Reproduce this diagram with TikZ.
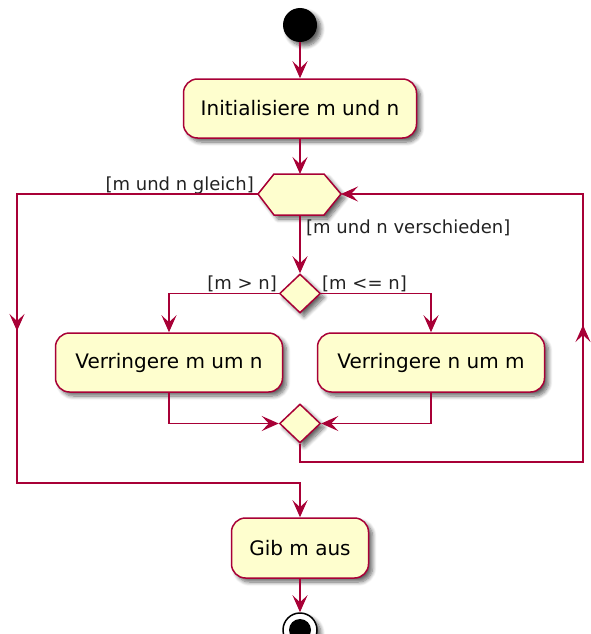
\documentclass[tikz,border=0pt]{standalone}
\usepackage{fontspec}
\setmainfont{DejaVu Sans}
\usetikzlibrary{arrows.meta,shapes.geometric,shadows.blur}
\definecolor{umlred}{HTML}{A80036}
\definecolor{umlfill}{HTML}{FEFECE}
\definecolor{lbltext}{HTML}{222222}

\begin{document}
\begin{tikzpicture}[x=1pt,y=-1pt,
  shade/.style={blur shadow={shadow xshift=4pt, shadow yshift=-4pt,
      shadow blur steps=8, shadow blur radius=4pt, shadow opacity=60}},
  act/.style={rectangle, rounded corners=14pt, draw=umlred, fill=umlfill,
      line width=1.5pt, minimum height=59pt, inner sep=0pt, text=black,
      font=\fontsize{20}{24}\selectfont, shade},
  decision/.style={diamond, draw=umlred, fill=umlfill, line width=1.5pt,
      minimum width=41pt, minimum height=39pt, inner sep=0pt, shade},
  hexshape/.style={draw=umlred, fill=umlfill, line width=1.5pt, shade},
  flow/.style={draw=umlred, line width=1.5pt},
  arr/.style={flow, -{Stealth[length=17pt, width=15pt, inset=7pt]}},
  lbl/.style={inner sep=0pt, text=lbltext, font=\fontsize{18}{22}\selectfont},
  startdot/.style={circle, fill=black, minimum size=34pt, inner sep=0pt, shade},
  stopring/.style={circle, draw=black, fill=white, line width=1.5pt,
      minimum size=34pt, inner sep=0pt, shade}
]
\useasboundingbox (0,0) rectangle (590,634);

% start, initialisation
\node[startdot] (start) at (300,25) {};
\node[act, minimum width=233pt] (init) at (300,108.5) {Initialisiere m und n};

% loop head (hexagon)
\coordinate (hexW) at (258,194);
\coordinate (hexE) at (341,194);
\coordinate (hexN) at (300,174);
\coordinate (hexS) at (300,215);
\path[hexshape] (hexW) -- (274,174) -- (324,174) -- (hexE) -- (324,215) -- (274,215) -- cycle;

% branch and merge
\node[decision] (dec) at (300,293.5) {};
\node[act, minimum width=227pt] (lbox) at (169,362.5) {Verringere m um n};
\node[act, minimum width=227pt] (rbox) at (431,362.5) {Verringere n um m};
\node[decision] (merge) at (300,423.5) {};

% output and end
\node[act, minimum width=137pt, minimum height=60pt] (gib) at (300,548) {Gib m aus};
\node[stopring] (stop) at (300,630) {};
\fill[black] (stop.center) circle (11pt);

% guard labels
\node[lbl, anchor=base east] (gleich) at (254,190.5) {[m und n gleich]};
\node[lbl, anchor=base west] (versch) at (306,233.5) {[m und n verschieden]};
\node[lbl, anchor=base east] (mgn) at (277,289.5) {[m > n]};
\node[lbl, anchor=base west] (mlen) at (322,289.5) {[m <= n]};

% helper points of the loop-back and exit lines
\coordinate (loopSE) at (583,462);
\coordinate (loopNE) at (583,194);
\coordinate (upTip) at (583,325);
\coordinate (exitNW) at (17,194);
\coordinate (exitSW) at (17,483);
\coordinate (downTip) at (17,331);

% connectors
\draw[arr] (start) -- (init);
\draw[arr] (init) -- (hexN);
\draw[arr] (hexS) -- (dec);
\draw[arr] (dec.west) -| (lbox.north);
\draw[arr] (dec.east) -| (rbox.north);
\draw[arr] (lbox.south) |- (merge.west);
\draw[arr] (rbox.south) |- (merge.east);
\draw[arr] (merge.south) |- (loopSE) -- (loopNE) -- (hexE);
\draw[arr] (loopSE) -- (upTip);
\draw[arr] (hexW) -- (exitNW) -- (exitSW) -| (gib.north);
\draw[arr] (exitNW) -- (downTip);
\draw[arr] (gib) -- (stop);
\end{tikzpicture}
\end{document}
